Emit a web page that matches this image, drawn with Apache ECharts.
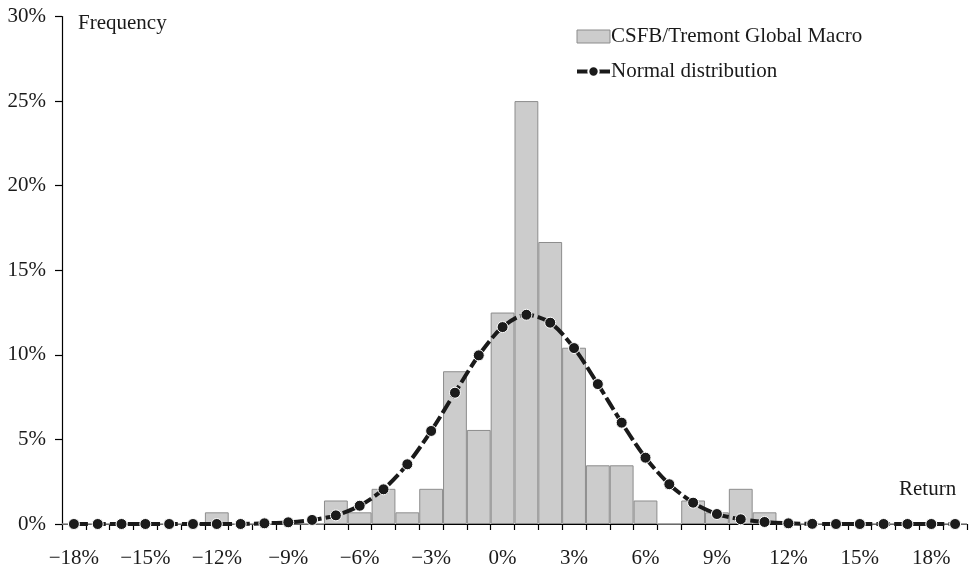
<!DOCTYPE html>
<html>
<head>
<meta charset="utf-8">
<script src="https://cdn.jsdelivr.net/npm/echarts@6/dist/echarts.min.js"></script>
<style>html,body{margin:0;padding:0;background:#fff;}#c{width:971px;height:569px;}</style>
</head>
<body>
<div id="c"></div>
<script>
// Return buckets (%), one per category
const categories = [-18,-17,-16,-15,-14,-13,-12,-11,-10,-9,-8,-7,-6,-5,-4,-3,-2,-1,0,1,2,3,4,5,6,7,8,9,10,11,12,13,14,15,16,17,18,19];
// CSFB/Tremont Global Macro frequency (%)
const histValues = [0,0,0,0,0,0,0.69,0,0,0,0,1.39,0.69,2.08,0.69,2.08,9.03,5.56,12.5,25,16.67,10.42,3.47,3.47,1.39,0,1.39,0.69,2.08,0.69,0,0,0,0,0,0,0,0];
// Normal distribution (%)
const normalValues = [0,0,0,0,0,0,0,0,0.04,0.1,0.24,0.51,1.08,2.05,3.53,5.5,7.76,9.97,11.64,12.37,11.9,10.4,8.27,5.99,3.92,2.35,1.26,0.59,0.28,0.12,0.04,0.01,0,0,0,0,0,0];
// Y-axis ticks (%)
const yTicks = [0,5,10,15,20,25,30];
const seriesNames = ['CSFB/Tremont Global Macro','Normal distribution'];

const FONT = '"Liberation Serif", "DejaVu Serif", serif';
const FS = 21;
const chart = echarts.init(document.getElementById('c'));
chart.setOption({
  animation: false,
  backgroundColor: '#fff',
  textStyle: {fontFamily: FONT},
  grid: {left: 62, right: 4, top: 16.5, bottom: 45, containLabel: false},
  legend: {
    left: 570, top: 21, orient: 'vertical', itemGap: 14,
    itemWidth: 33, itemHeight: 13,
    textStyle: {fontFamily: FONT, fontSize: FS, color: '#1a1a1a', padding: [0,0,0,-4]},
    data: [
      {name: seriesNames[0], icon: 'rect', itemStyle: {color: '#cccccc', borderColor: '#8c8c8c', borderWidth: 1}},
      {name: seriesNames[1], lineStyle: {width: 4, type: 'solid', color: '#1a1a1a'}}
    ]
  },
  xAxis: {
    type: 'category',
    data: categories,
    boundaryGap: true,
    axisLine: {lineStyle: {color: '#000', width: 1.2}},
    axisTick: {show: true, interval: 0, length: 6, lineStyle: {color: '#000', width: 1.2}},
    axisLabel: {
      interval: 2, color: '#1a1a1a', fontFamily: FONT, fontSize: FS, margin: 24,
      formatter: v => (Number(v) < 0 ? '\u2212' + Math.abs(v) : v) + '%'
    },
    splitLine: {show: false}
  },
  yAxis: {
    type: 'value', min: yTicks[0], max: yTicks[yTicks.length-1], interval: 5,
    axisLine: {show: true, lineStyle: {color: '#000', width: 1.2}},
    axisTick: {show: true, length: 7, lineStyle: {color: '#000', width: 1.2}},
    axisLabel: {color: '#1a1a1a', fontFamily: FONT, fontSize: FS, margin: 16, formatter: '{value}%'},
    splitLine: {show: false}
  },
  graphic: [
    {type: 'text', left: 78, top: 13, style: {text: 'Frequency', font: FS + 'px ' + FONT, fill: '#1a1a1a'}},
    {type: 'text', left: 899, top: 479, style: {text: 'Return', font: FS + 'px ' + FONT, fill: '#1a1a1a'}}
  ],
  series: [
    {
      name: seriesNames[0], type: 'bar', data: histValues,
      barCategoryGap: '0%', barWidth: '100%',
      itemStyle: {color: '#cccccc', borderColor: '#8c8c8c', borderWidth: 1},
      z: 2
    },
    {
      name: seriesNames[1], type: 'line', data: normalValues,
      smooth: 0.3,
      symbol: 'circle', symbolSize: 11,
      itemStyle: {color: '#1a1a1a', borderColor: '#fff', borderWidth: 1},
      lineStyle: {color: '#1a1a1a', width: 4, type: [14, 4]},
      z: 3
    }
  ]
});
</script>
</body>
</html>
